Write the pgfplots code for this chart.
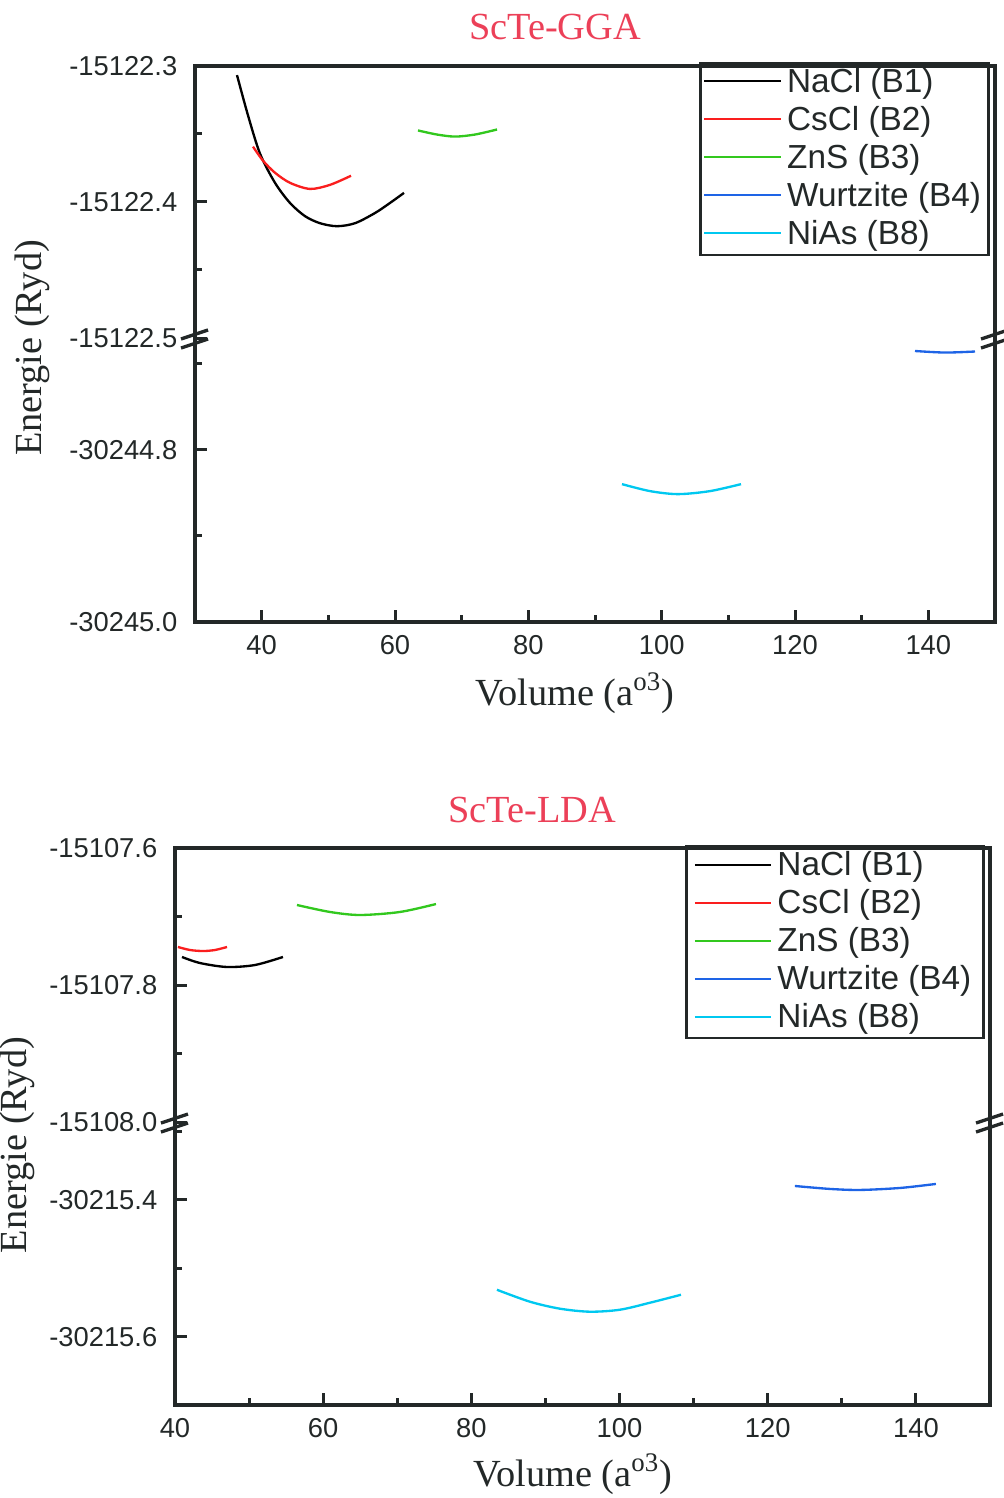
\documentclass[border=0pt]{standalone}
\usepackage{fontspec}
\setmainfont{Liberation Serif}
\newfontfamily\arial{Liberation Sans}
\usepackage{pgfplots}
\pgfplotsset{compat=1.18}
\definecolor{ttl}{RGB}{236,64,88}
\definecolor{cred}{RGB}{250,30,30}
\definecolor{cgreen}{RGB}{50,200,30}
\definecolor{cblue}{RGB}{30,100,230}
\definecolor{ccyan}{RGB}{0,200,240}
\definecolor{ink}{RGB}{35,40,40}
\makeatletter
\def\fltostr#1Y#2]{\ifcase#1 0\or #2\or -#2\else 0\fi}
\newcommand\shifty[2]{%
  \in@{Y}{#1}%
  \ifin@ \edef\pgfmathresult{\fpeval{\fltostr#1+(#2)}}%
  \else \edef\pgfmathresult{\fpeval{#1+(#2)}}\fi}
\makeatother
\pgfplotsset{
  brk/.style={
    scale only axis,
    anchor=south west,
    axis line style={draw=none},
    tick align=inside,
    xtick pos=bottom, ytick pos=left,
    major tick length=3.6pt, minor tick length=2pt,
    tick style={ink, line width=0.9pt},
    /pgf/number format/assume math mode=true,
    ticklabel style={font=\arial\fontsize{8.2}{9}\selectfont, text=ink},
    yticklabel style={xshift=-1.8pt},
    xticklabel style={yshift=-0.5pt},
    every axis plot/.append style={line width=0.7pt, smooth},
  },
  leg/.style={
    legend style={at={(axis description cs:1,1)}, anchor=north east,
      draw=ink, line width=0.8pt, fill=white,
      font=\arial\fontsize{10}{10}\selectfont, text=ink,
      inner xsep=0.6pt, inner ysep=0.5pt, row sep=0.5pt,
      nodes={inner xsep=1.5pt, inner ysep=1pt, text height=7.2pt, text depth=1.7pt}},
    legend cell align=left,
    legend image code/.code={\draw[##1, line width=0.6pt] (0pt,0.5pt) -- (23pt,0.5pt);},
  },
}
\begin{document}
\begin{tikzpicture}
% ===================== TOP: GGA =====================
\begin{axis}[brk, leg,
  at={(58.5pt,-101.4pt)}, width=240pt, height=81.6pt,
  xmin=30, xmax=150, xtick=\empty,
  y coord trafo/.code={\shifty{#1}{15122.4}},
  ymin=-15122.5, ymax=-15122.3,
  ytick={-15122.5,-15122.4,-15122.3},
  yticklabels={-15122.5,-15122.4,-15122.3},
  minor ytick={-15122.45,-15122.35},
  legend style={xshift=-1.5pt, yshift=1.2pt, inner xsep=0.8pt},
]
\addplot[black] coordinates {(36.3,-15122.3067) (37.95,-15122.3363) (39.75,-15122.3644) (42.0,-15122.3859) (44.25,-15122.4007) (46.5,-15122.4104) (48.75,-15122.4156) (51.3,-15122.4178) (54.0,-15122.4156) (57.0,-15122.4081) (59.25,-15122.4007) (61.35,-15122.3933)};
\addlegendentry{NaCl (B1)}
\addplot[cred] coordinates {(38.7,-15122.3593) (40.2,-15122.3696) (42.0,-15122.3785) (44.25,-15122.3859) (47.25,-15122.3904) (50.25,-15122.3874) (53.4,-15122.3807)};
\addlegendentry{CsCl (B2)}
\addplot[cgreen] coordinates {(63.45,-15122.3474) (66.3,-15122.3504) (69.0,-15122.3519) (72.0,-15122.3504) (75.3,-15122.3467)};
\addlegendentry{ZnS (B3)}
\addlegendimage{cblue}
\addlegendentry{Wurtzite (B4)}
\addlegendimage{ccyan}
\addlegendentry{NiAs (B8)}
\end{axis}
\begin{axis}[brk,
  at={(58.5pt,-186.6pt)}, width=240pt, height=85.2pt,
  xmin=30, xmax=150, xtick={40,60,...,140}, minor xtick={50,70,90,110,130},
  y coord trafo/.code={\shifty{#1}{30244.8}},
  ymin=-30245.0, ymax=-30244.67,
  ytick={-30245.0,-30244.8},
  yticklabels={-30245.0,-30244.8},
  minor ytick={-30244.9,-30244.7},
]
\addplot[cblue] coordinates {(138.0,-30244.6851) (142.5,-30244.6869) (147.0,-30244.6857)};
\addplot[ccyan] coordinates {(94.05,-30244.8398) (98.25,-30244.8479) (102.45,-30244.8514) (107.25,-30244.8479) (111.9,-30244.8398)};
\end{axis}
% ===================== BOTTOM: LDA =====================
\begin{axis}[brk, leg,
  at={(52.5pt,-336.6pt)}, width=244.5pt, height=82.2pt,
  xmin=40, xmax=150, xtick=\empty,
  y coord trafo/.code={\shifty{#1}{15107.8}},
  ymin=-15108.0, ymax=-15107.6,
  ytick={-15108.0,-15107.8,-15107.6},
  yticklabels={-15108.0,-15107.8,-15107.6},
  minor ytick={-15107.9,-15107.7},
  legend style={xshift=-1.5pt, yshift=0.9pt, inner xsep=2.2pt},
]
\addplot[black] coordinates {(40.94,-15107.7591) (43.37,-15107.7679) (47.02,-15107.7737) (50.8,-15107.7708) (54.57,-15107.7591)};
\addlegendentry{NaCl (B1)}
\addplot[cred] coordinates {(40.4,-15107.7445) (42.02,-15107.7489) (43.78,-15107.7504) (45.4,-15107.7489) (47.02,-15107.7445)};
\addlegendentry{CsCl (B2)}
\addplot[cgreen] coordinates {(56.46,-15107.6832) (60.92,-15107.6934) (64.97,-15107.6978) (70.36,-15107.6934) (75.22,-15107.6818)};
\addlegendentry{ZnS (B3)}
\addlegendimage{cblue}
\addlegendentry{Wurtzite (B4)}
\addlegendimage{ccyan}
\addlegendentry{NiAs (B8)}
\end{axis}
\begin{axis}[brk,
  at={(52.5pt,-421.5pt)}, width=244.5pt, height=84.9pt,
  xmin=40, xmax=150, xtick={40,60,...,140}, minor xtick={50,70,90,110,130},
  y coord trafo/.code={\shifty{#1}{30215.5}},
  ymin=-30215.7, ymax=-30215.286,
  ytick={-30215.6,-30215.4},
  yticklabels={-30215.6,-30215.4},
  minor ytick={-30215.5,-30215.3},
]
\addplot[cblue] coordinates {(123.67,-30215.3796) (128.39,-30215.3839) (132.44,-30215.3854) (137.84,-30215.3825) (142.7,-30215.3766)};
\addplot[ccyan] coordinates {(83.45,-30215.5314) (87.91,-30215.5489) (91.96,-30215.5591) (96.0,-30215.5635) (100.05,-30215.5606) (104.1,-30215.5504) (108.29,-30215.5387)};
\end{axis}
% ===================== frames, breaks, labels =====================
\begin{scope}[x=0.3pt,y=-0.3pt]
\draw[ink, line width=1pt] (195,66) rectangle (995,622);
\draw[ink, line width=1pt] (175,848) rectangle (990,1405);
\foreach \bx/\by in {195/338, 995/338, 175/1122, 990/1122}{
  \draw[ink, line width=1pt] (\bx-14,\by+1) -- (\bx+13,\by-8);
  \draw[ink, line width=1pt] (\bx-14,\by+10) -- (\bx+13,\by+1);
}
\node[text=ttl, font=\fontsize{11.5}{12}\selectfont] at (555,27) {ScTe-GGA};
\node[text=ttl, font=\fontsize{11.5}{12}\selectfont] at (532,810) {ScTe-LDA};
\node[text=ink, font=\fontsize{11.5}{12}\selectfont] at (575,693) {Volume (a\textsuperscript{o3})};
\node[text=ink, font=\fontsize{11.5}{12}\selectfont] at (573,1474) {Volume (a\textsuperscript{o3})};
\node[text=ink, font=\fontsize{11.5}{12}\selectfont, rotate=90] at (32,348) {Energie (Ryd)};
\node[text=ink, font=\fontsize{11.5}{12}\selectfont, rotate=90] at (17,1145) {Energie (Ryd)};
\end{scope}
\pgfresetboundingbox
\path[use as bounding box] (0,0) rectangle (300.9pt,-449.4pt);
\end{tikzpicture}
\end{document}
